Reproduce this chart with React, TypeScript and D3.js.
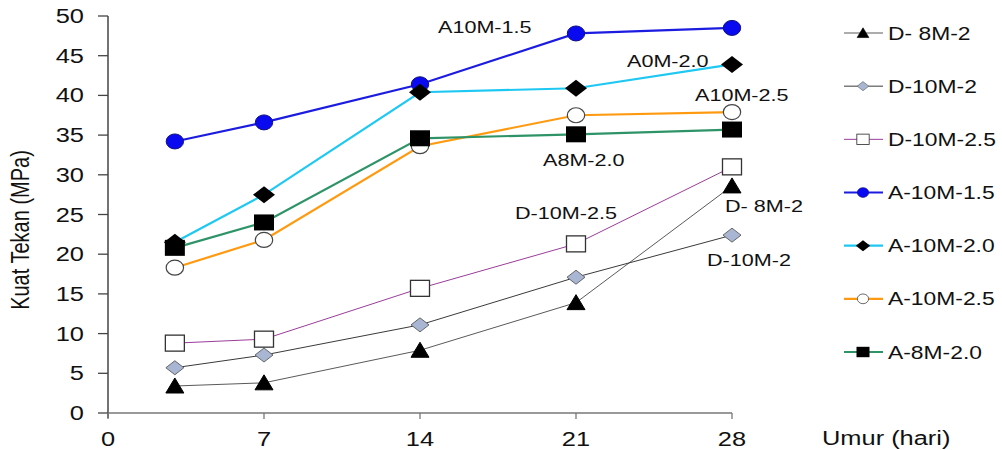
import React from "react";
import * as d3 from "d3";

const days = [3, 7, 14, 21, 28];
const xTicks = [0, 7, 14, 21, 28];
const yTicks = [0, 5, 10, 15, 20, 25, 30, 35, 40, 45, 50];

const d8m2 = [3.4, 3.8, 7.9, 13.9, 28.6];
const d10m2 = [5.7, 7.3, 11.1, 17.1, 22.4];
const d10m25 = [8.8, 9.3, 15.7, 21.3, 31.0];
const a10m15 = [34.2, 36.6, 41.4, 47.8, 48.5];
const a10m20 = [21.5, 27.5, 40.4, 40.9, 43.9];
const a10m25 = [18.3, 21.8, 33.6, 37.5, 37.9];
const a8m20 = [20.8, 24.0, 34.6, 35.1, 35.7];

type Marker = "triangle" | "diamondGrey" | "squareOpen" | "circleBlue" | "diamondBlack" | "circleOpen" | "squareBlack";

const series: { name: string; values: number[]; color: string; width: number; marker: Marker }[] = [
  { name: "D- 8M-2", values: d8m2, color: "#5a5a5a", width: 1, marker: "triangle" },
  { name: "D-10M-2", values: d10m2, color: "#3a3a3a", width: 1, marker: "diamondGrey" },
  { name: "D-10M-2.5", values: d10m25, color: "#9b3d9b", width: 1, marker: "squareOpen" },
  { name: "A-10M-1.5", values: a10m15, color: "#1c1ce0", width: 2.2, marker: "circleBlue" },
  { name: "A-10M-2.0", values: a10m20, color: "#1ec8f2", width: 2.2, marker: "diamondBlack" },
  { name: "A-10M-2.5", values: a10m25, color: "#ff9a10", width: 2.2, marker: "circleOpen" },
  { name: "A-8M-2.0", values: a8m20, color: "#2e9468", width: 2.2, marker: "squareBlack" },
];

const annotations = [
  { text: "A10M-1.5", x: 438, y: 33 },
  { text: "A0M-2.0", x: 627, y: 67 },
  { text: "A10M-2.5", x: 695, y: 101 },
  { text: "A8M-2.0", x: 543, y: 166 },
  { text: "D-10M-2.5", x: 515, y: 219 },
  { text: "D- 8M-2", x: 725, y: 212 },
  { text: "D-10M-2", x: 707, y: 266 },
];

const SX = 1.27;
const FONT = "'Liberation Sans', Arial, sans-serif";

function STxt({ x, y, size, anchor = "start", children, color = "#111" }: any) {
  return (
    <text
      transform={`translate(${x},${y}) scale(${SX},1)`}
      fontSize={size}
      fontFamily={FONT}
      textAnchor={anchor}
      fill={color}
    >
      {children}
    </text>
  );
}

function MarkerShape({ type, cx, cy, s = 1 }: { type: Marker; cx: number; cy: number; s?: number }) {
  const t = `translate(${cx},${cy}) scale(${s})`;
  switch (type) {
    case "triangle":
      return <path transform={t} d="M0,-8 L9,7 L-9,7 Z" fill="#000" stroke="#000" strokeWidth={1} />;
    case "diamondGrey":
      return <path transform={t} d="M0,-7 L9,0 L0,7 L-9,0 Z" fill="#a9b6d3" stroke="#666" strokeWidth={1} />;
    case "squareOpen":
      return <rect transform={t} x={-9.5} y={-8} width={19} height={16} fill="#fff" stroke="#333" strokeWidth={1.3} />;
    case "circleBlue":
      return <ellipse transform={t} rx={8.7} ry={7.5} fill="#0a0af0" stroke="#101080" strokeWidth={1} />;
    case "diamondBlack":
      return <path transform={t} d="M0,-8.5 L11,0 L0,8.5 L-11,0 Z" fill="#000" />;
    case "circleOpen":
      return <ellipse transform={t} rx={8.7} ry={7.5} fill="#fff" stroke="#444" strokeWidth={1.2} />;
    case "squareBlack":
      return <rect transform={t} x={-10} y={-8} width={20} height={16} fill="#000" />;
  }
  return null;
}

export default function App() {
  const W = 1002;
  const H = 450;
  const x = d3.scaleLinear().domain([0, 28]).range([108, 732]);
  const y = d3.scaleLinear().domain([0, 50]).range([413, 16]);
  const line = d3
    .line<number>()
    .x((_, i) => x(days[i]))
    .y((v) => y(v));

  const legendY = d3.scaleLinear().domain([0, 6]).range([33, 352]);

  return (
    <svg width={W} height={H} style={{ position: "absolute", left: 0, top: 0, background: "#fff" }}>
      {/* axes */}
      <line x1={108} x2={108} y1={y(50)} y2={418} stroke="#444" strokeWidth={1.5} />
      <line x1={108} x2={x(28)} y1={y(0)} y2={y(0)} stroke="#777" strokeWidth={1.3} />
      {yTicks.map((t) => (
        <g key={"y" + t}>
          <line x1={98} x2={108} y1={y(t)} y2={y(t)} stroke="#444" strokeWidth={1.3} />
          <STxt x={84} y={y(t) + 7} size={20} anchor="end">
            {t}
          </STxt>
        </g>
      ))}
      {xTicks.map((t) => (
        <g key={"x" + t}>
          <line x1={x(t)} x2={x(t)} y1={y(0)} y2={y(0) + 6} stroke="#777" strokeWidth={1.3} />
          <STxt x={x(t)} y={446} size={20} anchor="middle">
            {t}
          </STxt>
        </g>
      ))}
      <text
        transform={`translate(29,230) scale(${SX},1) rotate(-90)`}
        fontSize={20}
        fontFamily={FONT}
        textAnchor="middle"
        fill="#111"
      >
        Kuat Tekan (MPa)
      </text>
      <STxt x={822} y={445} size={20}>
        Umur (hari)
      </STxt>

      {/* lines */}
      {series.map((s) => (
        <path key={"l" + s.name} d={line(s.values) || ""} fill="none" stroke={s.color} strokeWidth={s.width} />
      ))}
      {/* markers */}
      {series.map((s) =>
        s.values.map((v, i) => <MarkerShape key={s.name + i} type={s.marker} cx={x(days[i])} cy={y(v)} />)
      )}

      {/* annotations */}
      {annotations.map((a) => (
        <STxt key={a.text} x={a.x} y={a.y} size={17}>
          {a.text}
        </STxt>
      ))}

      {/* legend */}
      {series.map((s, i) => {
        const ly = legendY(i);
        return (
          <g key={"lg" + s.name}>
            <line x1={844} x2={883} y1={ly} y2={ly} stroke={s.color} strokeWidth={s.width} />
            <MarkerShape type={s.marker} cx={863} cy={ly} s={0.65} />
            <STxt x={888} y={ly + 6.5} size={18}>
              {s.name}
            </STxt>
          </g>
        );
      })}
    </svg>
  );
}
